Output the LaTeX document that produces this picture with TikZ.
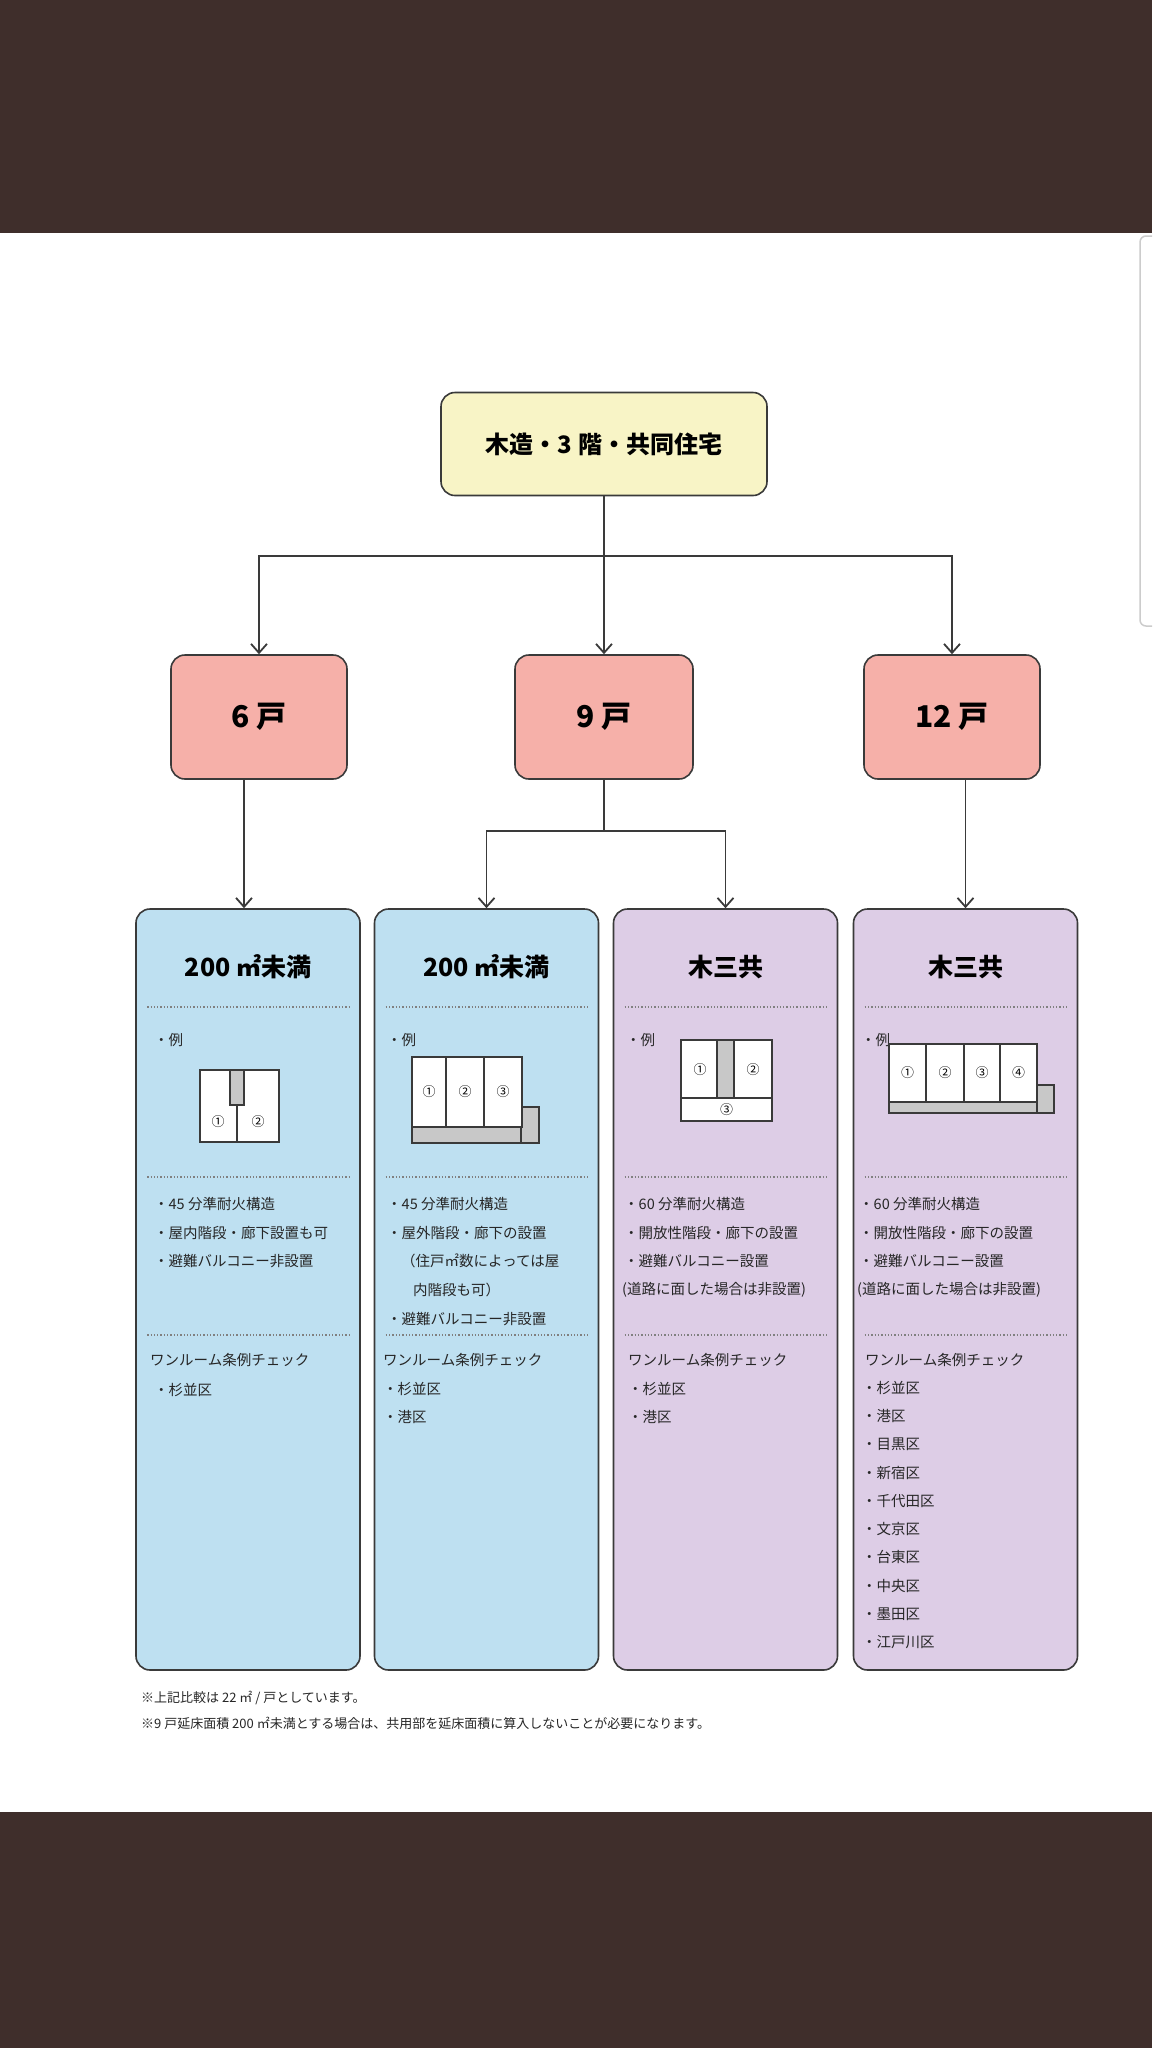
\documentclass[tikz,border=0pt]{standalone}
\usepackage{fontspec}
\setmainfont{Noto Sans CJK JP}
\usetikzlibrary{positioning}
\definecolor{bandbrown}{HTML}{3F2E2B}
\definecolor{topyellow}{HTML}{F8F4C6}
\definecolor{unitred}{HTML}{F6B0A9}
\definecolor{colblue}{HTML}{BEE0F1}
\definecolor{colpurple}{HTML}{DDCDE6}
\definecolor{linegray}{HTML}{3A3A3A}
\definecolor{stairgray}{HTML}{C8C8C8}
\tikzset{
  box/.style={draw=linegray, line width=1.6pt, rounded corners=14pt, align=center},
  link/.style={draw=linegray, line width=1.8pt},
  arr/.style={link, -{Straight Barb[length=9pt,width=16pt]}},
  sep/.style={draw=gray, line width=1.3pt, dotted},
  txt/.style={anchor=west, font=\fontsize{14.5}{16}\selectfont, text=black!85, inner sep=0pt},
  plan/.style={draw=linegray, line width=1.5pt, fill=white},
  stair/.style={draw=linegray, line width=1.5pt, fill=stairgray},
  num/.style={font=\fontsize{13}{14}\selectfont, inner sep=0pt}
}
\usetikzlibrary{arrows.meta}
\begin{document}
\begin{tikzpicture}[x=1pt,y=-1pt]
\useasboundingbox (0,0) rectangle (1152,2048);
\fill[white] (0,0) rectangle (1152,2048);
\fill[bandbrown] (0,0) rectangle (1152,233);
\fill[bandbrown] (0,1812) rectangle (1152,2048);
\draw[gray!40, line width=1.5pt, rounded corners=6pt] (1152,236) -- (1140,236) -- (1140,626) -- (1152,626);

% top and unit boxes
\node[box, fill=topyellow, minimum width=326pt, minimum height=103pt,
      font=\fontsize{24}{26}\selectfont\bfseries] (top) at (604,444) {木造・3 階・共同住宅};
\node[box, fill=unitred, minimum width=176pt, minimum height=124pt,
      font=\fontsize{30}{32}\selectfont\bfseries] (u6) at (259,717) {6 戸};
\node[box, fill=unitred, minimum width=178pt, minimum height=124pt,
      font=\fontsize{30}{32}\selectfont\bfseries] (u9) at (604,717) {9 戸};
\node[box, fill=unitred, minimum width=176pt, minimum height=124pt,
      font=\fontsize{30}{32}\selectfont\bfseries] (u12) at (952,717) {12 戸};

% columns
\foreach \n/\cx/\cc in {c1/248/colblue, c2/486.5/colblue, c3/725.5/colpurple, c4/965.5/colpurple}
  \node[box, fill=\cc, minimum width=224pt, minimum height=761pt] (\n) at (\cx,1289.5) {};

\foreach \n/\t in {c1/200 ㎡未満, c2/200 ㎡未満, c3/木三共, c4/木三共}
  \node[font=\fontsize{25}{27}\selectfont\bfseries] (\n-title) at (\n.north |- 0,967) {\t};

\foreach \n in {c1,c2,c3,c4}
  \foreach \y in {1007,1177,1335}
    \draw[sep] ([xshift=12pt]\n.west |- 0,\y) -- ([xshift=-12pt]\n.east |- 0,\y);

% connectors
\coordinate (split) at (604,556);
\coordinate (split9) at (604,831);
\draw[link] (top) -- (split);
\draw[arr] (split) -| (u6.north);
\draw[arr] (split) -- (u9.north);
\draw[arr] (split) -| (u12.north);
\draw[arr] (u6.south -| 244,0) -- (c1.north -| 244,0);
\draw[link] (u9) -- (split9);
\draw[arr] (split9) -| (c2.north);
\draw[arr] (split9) -| (c3.north);
\draw[arr] (u12.south -| c4.north) -- (c4.north);

% examples
\foreach \n/\x in {c1/154, c2/387, c3/626, c4/861}
  \node[txt] (\n-ex) at (\x,1040) {・例};

% plan 1
\draw[plan] (200,1070) rectangle (279,1142);
\draw[linegray, line width=1.5pt] (237,1105) -- (237,1142);
\draw[stair] (230,1070) rectangle (244,1105);
\node[num] (p1a) at (218,1122) {①};
\node[num] (p1b) at (258,1122) {②};
% plan 2
\draw[stair] (412,1127) rectangle (522,1143);
\draw[stair] (521,1107) rectangle (539,1143);
\foreach \a/\b/\k in {412/446/①, 446/484/②, 484/522/③}
  \draw[plan] (\a,1057) rectangle (\b,1127) node[num, midway] {\k};
% plan 3
\draw[plan] (681,1040) rectangle (772,1121);
\draw[plan] (681,1098) rectangle (772,1121) node[num, midway] {③};
\draw[stair] (717,1040) rectangle (734,1098);
\node[num] (p3a) at (700,1070) {①};
\node[num] (p3b) at (753,1070) {②};
% plan 4
\draw[stair] (889,1102) rectangle (1038,1113);
\draw[stair] (1037,1085) rectangle (1054,1113);
\foreach \a/\b/\k in {889/926/①, 926/964/②, 964/1000/③, 1000/1037/④}
  \draw[plan] (\a,1044) rectangle (\b,1102) node[num, midway] {\k};

% conditions
\node[txt] (c1-r1) at (154,1204) {・45 分準耐火構造};
\node[txt] (c1-r2) at (154,1233) {・屋内階段・廊下設置も可};
\node[txt] (c1-r3) at (154,1261) {・避難バルコニー非設置};
\node[txt] (c2-r1) at (387,1204) {・45 分準耐火構造};
\node[txt] (c2-r2) at (387,1233) {・屋外階段・廊下の設置};
\node[txt] (c2-r3) at (401,1261) {（住戸㎡数によっては屋};
\node[txt] (c2-r4) at (413,1290) {内階段も可）};
\node[txt] (c2-r5) at (387,1319) {・避難バルコニー非設置};
\foreach \n/\x in {c3/624, c4/859} {
  \node[txt] (\n-r1) at (\x,1204) {・60 分準耐火構造};
  \node[txt] (\n-r2) at (\x,1233) {・開放性階段・廊下の設置};
  \node[txt] (\n-r3) at (\x,1261) {・避難バルコニー設置};
  \node[txt] (\n-r4) at (\x-2,1290) {(道路に面した場合は非設置)};
}

% one-room ordinance
\foreach \n/\x in {c1/150, c2/383, c3/628, c4/865}
  \node[txt] (\n-wr) at (\x,1360) {ワンルーム条例チェック};
\node[txt] (c1-w1) at (154,1390) {・杉並区};
\foreach \k/\w in {1/杉並区, 2/港区}
  \node[txt] (c2-w\k) at (383,1360+28.5*\k) {・\w};
\foreach \k/\w in {1/杉並区, 2/港区}
  \node[txt] (c3-w\k) at (628,1360+28.5*\k) {・\w};
\foreach \k/\w in {1/杉並区, 2/港区, 3/目黒区, 4/新宿区, 5/千代田区, 6/文京区, 7/台東区, 8/中央区, 9/墨田区, 10/江戸川区}
  \node[txt] (c4-w\k) at (862,1360+28.2*\k) {・\w};

% notes
\node[txt, font=\fontsize{13}{14}\selectfont] (note1) at (141,1698) {※上記比較は 22 ㎡ / 戸としています。};
\node[txt, font=\fontsize{13}{14}\selectfont] (note2) at (141,1723) {※9 戸延床面積 200 ㎡未満とする場合は、共用部を延床面積に算入しないことが必要になります。};
\end{tikzpicture}
\end{document}
